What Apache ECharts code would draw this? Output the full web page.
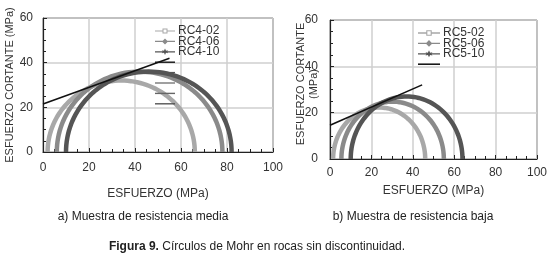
<!DOCTYPE html>
<html>
<head>
<meta charset="utf-8">
<script src="https://cdn.jsdelivr.net/npm/echarts@6/dist/echarts.min.js"></script>
<style>
  html, body { margin: 0; padding: 0; background: #fff; }
  #mohr { width: 550px; height: 257px; }
</style>
</head>
<body>
<div id="mohr"></div>
<script>
// a) muestra de resistencia media
const namesA = ['RC4-02', 'RC4-06', 'RC4-10']
const sigma3A = [2, 6, 10]
const sigma1A = [66, 78, 82]
const envelopeA = [[0, 21.5], [55, 42]]

// b) muestra de resistencia baja
const namesB = ['RC5-02', 'RC5-06', 'RC5-10']
const sigma3B = [1.5, 5.5, 10]
const sigma1B = [46, 55, 64]
const envelopeB = [[0, 14.6], [44.5, 32]]

const xTicks = [0, 20, 40, 60, 80, 100]
const yTicks = [0, 20, 40, 60]

const circleColors = ['#a8a8a8', '#8a8a8a', '#555555']
const FONT = '"Liberation Sans", Arial, sans-serif'

// iconos de leyenda: linea + marcador (caja 20x8)
const ICON_LINE = 'path://M0,3.3H20V4.7H0Z'
const legendIcons = [
  'path://M0,3.4H7.5V4.6H0ZM12.5,3.4H20V4.6H12.5ZM7.5,1.5H12.5V6.5H7.5ZM8.5,2.5V5.5H11.5V2.5Z',
  'path://M0,3.4H20V4.6H0ZM10,1L13,4L10,7L7,4Z',
  'path://M0,3.4H20V4.6H0ZM10,0.8L11,3L13.2,2.5L11.8,4L13.2,5.5L11,5L10,7.2L9,5L6.8,5.5L8.2,4L6.8,2.5L9,3Z'
]

// dibuja el semicirculo de Mohr con las escalas del eje
function renderMohr (params, api) {
  const s3 = api.value(0)
  const s1 = api.value(1)
  const c = (s1 + s3) / 2
  const r = (s1 - s3) / 2
  const pts = []
  for (let i = 0; i <= 72; i++) {
    const a = Math.PI * i / 72
    pts.push(api.coord([c + r * Math.cos(a), r * Math.sin(a)]))
  }
  return {
    type: 'polyline',
    shape: { points: pts },
    style: { stroke: api.visual('color'), lineWidth: 4.5, fill: null }
  }
}

function xAxisFor (gridIndex, gap) {
  return {
    type: 'value', gridIndex: gridIndex, min: xTicks[0], max: xTicks[xTicks.length - 1], interval: 20,
    name: 'ESFUERZO (MPa)', nameLocation: 'middle', nameGap: gap,
    nameTextStyle: { fontFamily: FONT, fontSize: 12, color: '#333' },
    axisLine: { show: true, lineStyle: { color: '#222', width: 1.2 } },
    axisTick: { show: true, inside: true, length: 4, lineStyle: { color: '#222' } },
    minorTick: { show: true, splitNumber: 4, length: 3, lineStyle: { color: '#222' } },
    axisLabel: { fontFamily: FONT, fontSize: 12, color: '#333', margin: gridIndex === 0 ? 10 : 8 },
    splitLine: { show: true, lineStyle: { color: '#cfcfcf', width: 1.5 } }
  }
}

function yAxisFor (gridIndex, name, gap) {
  return {
    type: 'value', gridIndex: gridIndex, min: yTicks[0], max: yTicks[yTicks.length - 1], interval: 20,
    name: name, nameLocation: 'middle', nameGap: gap,
    nameTextStyle: { fontFamily: FONT, fontSize: 11, color: '#333' },
    axisLine: { show: true, lineStyle: { color: '#222', width: 1.2 } },
    axisTick: { show: true, inside: true, length: 4, lineStyle: { color: '#222' } },
    minorTick: { show: true, splitNumber: 4, length: 3, lineStyle: { color: '#222' } },
    axisLabel: { fontFamily: FONT, fontSize: 12, color: '#333', margin: gridIndex === 0 ? 10 : 12 },
    splitLine: { show: true, lineStyle: { color: '#cfcfcf', width: 1.5 } }
  }
}

const series = []
const legendA = []
const legendB = []

function addSet (names, s3, s1, env, gridIndex, legendList, envName, extras) {
  names.forEach(function (n, i) {
    series.push({
      name: n, type: 'custom', xAxisIndex: gridIndex, yAxisIndex: gridIndex,
      renderItem: renderMohr, itemStyle: { color: circleColors[i] },
      data: [[s3[i], s1[i]]], silent: true
    })
    legendList.push({ name: n, icon: legendIcons[i], itemStyle: { color: circleColors[i] } })
  })
  series.push({
    name: envName, type: 'line', xAxisIndex: gridIndex, yAxisIndex: gridIndex,
    data: env, symbol: 'none', itemStyle: { color: '#111' },
    lineStyle: { color: '#111', width: 1.6 }, silent: true
  })
  legendList.push({ name: envName, icon: ICON_LINE, itemStyle: { color: '#111' } })
  // trazos de leyenda sin texto (como en la figura original)
  extras.forEach(function (e) {
    series.push({
      name: e.name, type: 'line', xAxisIndex: gridIndex, yAxisIndex: gridIndex, data: [],
      symbol: 'none', itemStyle: { color: e.color }, lineStyle: { color: e.color }
    })
    legendList.push({ name: e.name, icon: ICON_LINE, itemStyle: { color: e.color } })
  })
}

addSet(namesA, sigma3A, sigma1A, envelopeA, 0, legendA, '_envA', [
  { name: '_a1', color: '#555' },
  { name: '_a2', color: '#777' },
  { name: '_a3', color: '#666' },
  { name: '_a4', color: '#555' }
])
addSet(namesB, sigma3B, sigma1B, envelopeB, 1, legendB, '_envB', [])

function legendFor (data, left, top, w) {
  return {
    data: data, left: left, top: top, orient: 'vertical', padding: 0,
    itemWidth: w, itemHeight: 8, itemGap: -1.6, selectedMode: false,
    formatter: function (name) { return name.charAt(0) === '_' ? ' ' : name },
    textStyle: { fontFamily: FONT, fontSize: 12, color: '#333', padding: [0, 0, 0, -2] }
  }
}

const option = {
  animation: false,
  backgroundColor: '#fff',
  grid: [
    { left: 43, top: 18, width: 230, height: 134, show: true, borderColor: '#333', borderWidth: 1 },
    { left: 330, top: 20, width: 208, height: 139, show: true, borderColor: '#333', borderWidth: 1 }
  ],
  xAxis: [xAxisFor(0, 36), xAxisFor(1, 26)],
  yAxis: [
    yAxisFor(0, 'ESFUERZO CORTANTE (MPa)', 26),
    yAxisFor(1, '', 10)
  ],
  legend: [legendFor(legendA, 155, 25, 20), legendFor(legendB, 418, 27, 22)],
  series: series,
  graphic: [
    {
      type: 'text', x: 307, y: 84, rotation: Math.PI / 2,
      style: { text: 'ESFUERZO CORTANTE\n(MPa)', font: '11px ' + FONT, fill: '#333', align: 'center', verticalAlign: 'middle', lineHeight: 13 }
    },
    { type: 'text', x: 143, y: 217, style: { text: 'a) Muestra de resistencia media', font: '12px ' + FONT, fill: '#222', align: 'center', verticalAlign: 'middle' } },
    { type: 'text', x: 413, y: 217, style: { text: 'b) Muestra de resistencia baja', font: '12px ' + FONT, fill: '#222', align: 'center', verticalAlign: 'middle' } },
    {
      type: 'text', x: 257, y: 247,
      style: {
        text: '{b|Figura 9.} Círculos de Mohr en rocas sin discontinuidad.',
        font: '12px ' + FONT, fill: '#222', align: 'center', verticalAlign: 'middle',
        rich: { b: { fontWeight: 'bold', fontFamily: FONT, fontSize: 12, fill: '#222' } }
      }
    }
  ]
}

const chart = echarts.init(document.getElementById('mohr'))
chart.setOption(option)
</script>
</body>
</html>
